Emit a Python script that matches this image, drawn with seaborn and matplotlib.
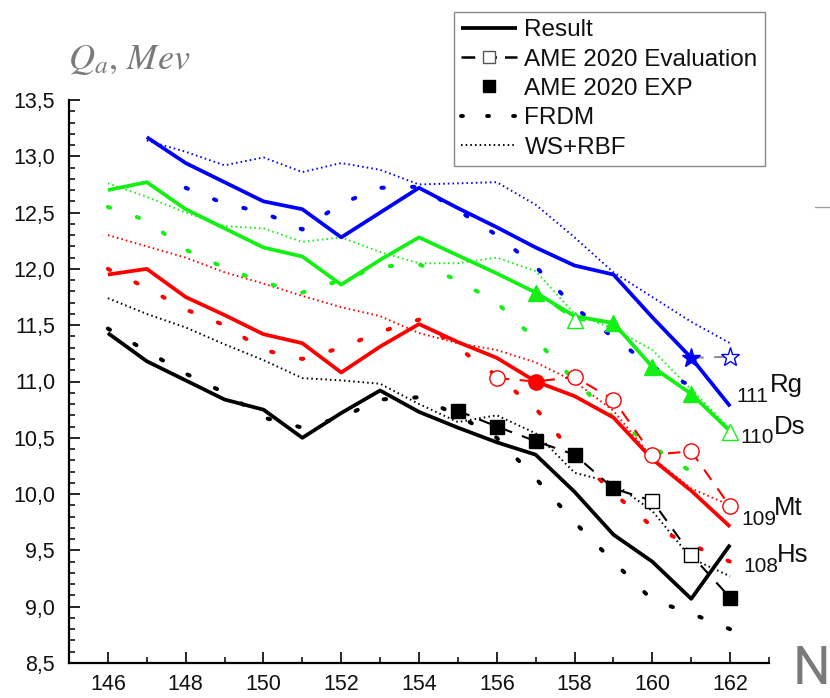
import matplotlib
matplotlib.use("Agg")
import matplotlib.pyplot as plt
from matplotlib.lines import Line2D
from matplotlib.ticker import MultipleLocator, FixedLocator, FixedFormatter
import pandas as pd
import seaborn as sns

# ---------------- data ----------------
n_all = list(range(146, 163))          # N = 146 ... 162
n_rg = list(range(147, 163))           # Rg results start at N = 147
n_rg_frdm = list(range(148, 162))
n_ds_frdm = list(range(146, 162))

# Hs (Z = 108)
hs_result = [11.43, 11.18, 11.01, 10.84, 10.75, 10.50, 10.72, 10.92, 10.73,
             10.59, 10.46, 10.35, 10.02, 9.64, 9.40, 9.07, 9.55]
hs_frdm = [11.47, 11.27, 11.07, 10.90, 10.68, 10.59, 10.68, 10.84, 10.86,
           10.70, 10.50, 10.14, 9.75, 9.40, 9.06, 8.94, 8.80]
hs_wsrbf = [11.74, 11.60, 11.48, 11.33, 11.19, 11.03, 11.01, 10.98, 10.80,
            10.64, 10.70, 10.54, 10.19, 10.10, 9.85, 9.43, 9.27]
hs_ame_n = [155, 156, 157, 158, 159, 160, 161, 162]
hs_ame = [10.74, 10.60, 10.47, 10.35, 10.05, 9.94, 9.46, 9.08]
hs_ame_exp = [True, True, True, True, True, False, False, True]

# Mt (Z = 109)
mt_result = [11.95, 12.00, 11.75, 11.59, 11.42, 11.34, 11.08, 11.31, 11.51,
             11.35, 11.21, 11.00, 10.87, 10.68, 10.31, 10.03, 9.71]
mt_frdm = [12.00, 11.83, 11.64, 11.50, 11.28, 11.20, 11.30, 11.44, 11.55,
           11.30, 11.05, 10.76, 10.35, 10.01, 9.71, 9.55, 9.40]
mt_wsrbf = [12.30, 12.20, 12.10, 11.97, 11.87, 11.76, 11.66, 11.58, 11.43,
            11.34, 11.28, 11.17, 11.00, 10.74, 10.32, 10.05, 9.90]
mt_ame_n = [156, 157, 158, 159, 160, 161, 162]
mt_ame = [11.03, 11.00, 11.04, 10.84, 10.35, 10.38, 9.89]
mt_ame_exp = [False, True, False, False, False, False, False]

# Ds (Z = 110)
ds_result = [12.70, 12.77, 12.53, 12.36, 12.19, 12.11, 11.86, 12.08, 12.28,
             12.12, 11.96, 11.79, 11.58, 11.52, 11.13, 10.89, 10.56]
ds_frdm = [12.55, 12.43, 12.17, 12.01, 11.88, 11.79, 11.90, 12.02, 12.04,
           11.90, 11.70, 11.37, 11.01, 10.68, 10.42, 10.20]
ds_wsrbf = [12.76, 12.64, 12.50, 12.38, 12.36, 12.24, 12.28, 12.15, 12.05,
            12.05, 12.10, 11.98, 11.60, 11.47, 11.28, 10.93, 10.58]
ds_ame_n = [157, 158, 159, 160, 161, 162]
ds_ame = [11.79, 11.55, 11.52, 11.13, 10.89, 10.55]
ds_ame_exp = [True, False, True, True, True, False]

# Rg (Z = 111)
rg_result = [13.17, 12.94, 12.77, 12.60, 12.53, 12.28, 12.50, 12.72, 12.54,
             12.37, 12.19, 12.03, 11.95, 11.57, 11.21, 10.78]
rg_frdm = [12.72, 12.58, 12.50, 12.35, 12.58, 12.72, 12.73, 12.52, 12.30,
           12.02, 11.66, 11.39, 11.13, 10.96]
rg_wsrbf = [13.14, 13.04, 12.92, 12.99, 12.86, 12.94, 12.88, 12.75, 12.76,
            12.77, 12.57, 12.28, 11.97, 11.75, 11.53, 11.34]
rg_ame_n = [161, 162]
rg_ame = [11.21, 11.22]
rg_ame_exp = [True, False]

x_ticks = [146, 148, 150, 152, 154, 156, 158, 160, 162]
y_ticks = [8.5, 9.0, 9.5, 10.0, 10.5, 11.0, 11.5, 12.0, 12.5, 13.0, 13.5]
y_tick_labels = ["8,5", "9,0", "9,5", "10,0", "10,5", "11,0", "11,5",
                 "12,0", "12,5", "13,0", "13,5"]

legend_labels = ["Result", "AME 2020 Evaluation", "AME 2020 EXP", "FRDM", "WS+RBF"]

# ---------------- style ----------------
sns.set_theme(style="ticks")
plt.rcParams["font.family"] = ["Liberation Sans", "DejaVu Sans"]
plt.rcParams["mathtext.fontset"] = "stix"

BLUE, GREEN, RED, BLACK = "#0000ff", "#14f014", "#ff0000", "#000000"

RESULT_KW = dict(linewidth=2.7, linestyle="-", solid_capstyle="butt")
FRDM_KW = dict(linewidth=2.9, linestyle=(0, (0.6, 7.0)), dash_capstyle="round")
WS_KW = dict(linewidth=1.4, linestyle=(0, (0.8, 1.6)))
AME_KW = dict(linewidth=1.5, linestyle=(0, (6, 5)))

fig = plt.figure(figsize=(8.30, 6.98), dpi=100)
ax = fig.add_axes([69 / 830, 35 / 698, 700 / 830, 563 / 698])


def draw_line(x, y, color, kw, z):
    df = pd.DataFrame({"N": x, "Q": y})
    sns.lineplot(data=df, x="N", y="Q", ax=ax, color=color, zorder=z,
                 estimator=None, sort=False, legend=False, **kw)


def draw_ame(x, y, exp, color, marker, ms, line_color=None):
    df = pd.DataFrame({"N": x, "Q": y, "exp": exp})
    sns.lineplot(data=df, x="N", y="Q", ax=ax, color=line_color or color,
                 estimator=None, sort=False, legend=False, zorder=5, **AME_KW)
    for flag, face in ((True, color), (False, "white")):
        sub = df[df["exp"] == flag]
        if sub.empty:
            continue
        sns.lineplot(data=sub, x="N", y="Q", ax=ax, color=color, linestyle="",
                     marker=marker, markersize=ms, markerfacecolor=face,
                     markeredgecolor=color, markeredgewidth=1.0,
                     estimator=None, sort=False, legend=False, zorder=6)


series = [
    (n_all, hs_result, hs_frdm, n_all, hs_wsrbf, n_all, BLACK),
    (n_all, mt_result, mt_frdm, n_all, mt_wsrbf, n_all, RED),
    (n_all, ds_result, ds_frdm, n_ds_frdm, ds_wsrbf, n_all, GREEN),
    (n_rg, rg_result, rg_frdm, n_rg_frdm, rg_wsrbf, n_rg, BLUE),
]
for n_res, res, frdm, n_fr, ws, n_ws, col in series:
    draw_line(n_ws, ws, col, WS_KW, 2)
    draw_line(n_fr, frdm, col, FRDM_KW, 3)
    draw_line(n_res, res, col, RESULT_KW, 4)

draw_ame(hs_ame_n, hs_ame, hs_ame_exp, BLACK, "s", 10)
draw_ame(mt_ame_n, mt_ame, mt_ame_exp, RED, "o", 11)
draw_ame(ds_ame_n, ds_ame, ds_ame_exp, GREEN, "^", 12)
draw_ame(rg_ame_n, rg_ame, rg_ame_exp, BLUE, "*", 14, line_color="#909090")

# ---------------- axes ----------------
ax.set_xlim(145, 163)
ax.set_ylim(8.5, 13.5)
ax.xaxis.set_major_locator(FixedLocator(x_ticks))
ax.xaxis.set_minor_locator(MultipleLocator(1))
ax.yaxis.set_major_locator(FixedLocator(y_ticks))
ax.yaxis.set_major_formatter(FixedFormatter(y_tick_labels))
ax.yaxis.set_minor_locator(MultipleLocator(0.1))
ax.tick_params(which="major", direction="in", length=8, width=1.2,
               labelsize=15.5, color="black", labelcolor="#111111")
ax.tick_params(axis="y", which="major", pad=10)
ax.tick_params(axis="x", which="major", pad=8)
ax.tick_params(which="minor", direction="in", length=4, width=1.1, color="black")
for side in ("top", "right"):
    ax.spines[side].set_visible(False)
for side in ("left", "bottom"):
    ax.spines[side].set_linewidth(1.6)
    ax.spines[side].set_color("black")
ax.set_xlabel("")
ax.set_ylabel("")
ax.patch.set_alpha(0)

# axis titles
fig.text(68 / 830, 1 - 69 / 698, r"$Q_a,\,Mev$", color="#7a7a7a", fontsize=26,
         ha="left", va="baseline")
fig.text(793 / 830, 3 / 698, "N", color="#7a7a7a", fontsize=38,
         family=["Roboto", "DejaVu Sans"], ha="left", va="bottom")
fig.add_artist(Line2D([815 / 830, 1.0], [1 - 207 / 698] * 2,
                      transform=fig.transFigure, color="#a0a0a0", linewidth=1.0))

# element labels (left-subscript Z, element symbol)
element_labels = [("111", "Rg", 162.16, 10.82),
                  ("110", "Ds", 162.26, 10.45),
                  ("109", "Mt", 162.28, 9.73),
                  ("108", "Hs", 162.34, 9.31)]
for z_txt, sym, x0, y0 in element_labels:
    ax.annotate(z_txt, (x0, y0), fontsize=15, ha="left", va="baseline",
                annotation_clip=False, color="#111111")
    ax.annotate(sym, (x0, y0), xytext=(24, 7), textcoords="offset points",
                fontsize=18.5, ha="left", va="baseline",
                annotation_clip=False, color="#111111")

# legend
handles = [
    Line2D([], [], color=BLACK, **RESULT_KW),
    Line2D([], [], color=BLACK, marker="s", markersize=8, markerfacecolor="white",
           markeredgecolor="#555555", markeredgewidth=1.0, linewidth=1.8,
           linestyle=(0, (5.5, 3.2))),
    Line2D([], [], color=BLACK, marker="s", markersize=9, linestyle=""),
    Line2D([], [], color=BLACK, linewidth=2.8, linestyle=(0, (0.5, 6.2)),
           dash_capstyle="round"),
    Line2D([], [], color=BLACK, **WS_KW),
]
leg = ax.legend(handles, legend_labels, loc="upper right",
                bbox_to_anchor=(765 / 830, 1 - 12 / 698),
                bbox_transform=fig.transFigure, borderaxespad=0,
                fontsize=17.5, frameon=True, fancybox=False, framealpha=1,
                edgecolor="#888888", handlelength=2.3, handletextpad=0.3,
                labelspacing=0.3, borderpad=0.3)
leg.get_frame().set_linewidth(1.0)
for t in leg.get_texts():
    t.set_color("#111111")

fig.savefig("out.png", dpi=100)
